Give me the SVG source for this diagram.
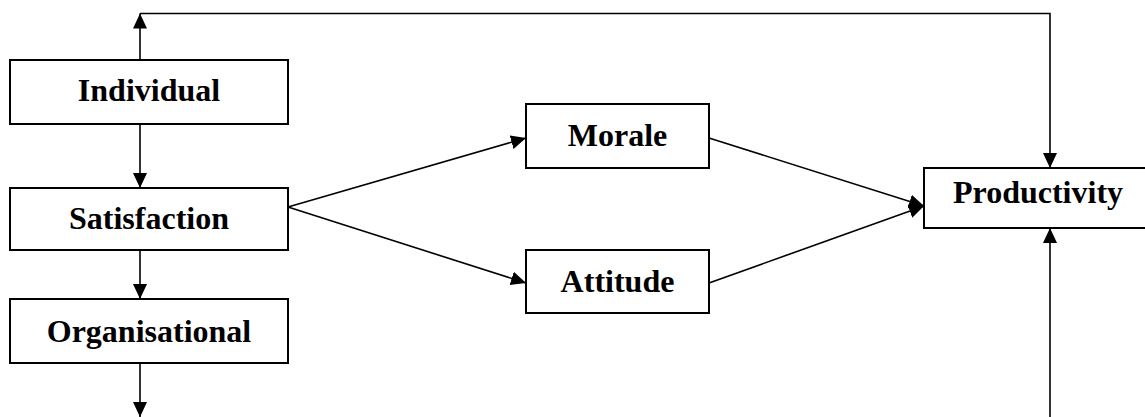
<svg xmlns="http://www.w3.org/2000/svg" width="1145" height="417" viewBox="0 0 1145 417">
  <style>
    .box { fill: #ffffff; stroke: #000000; stroke-width: 2; }
    .label { font-family: "Liberation Serif", "Times New Roman", serif; font-weight: bold; font-size: 32px; fill: #000000; text-anchor: middle; }
    .link { fill: none; stroke: #000000; stroke-width: 1.6; marker-end: url(#head); }
  </style>
  <defs>
    <marker id="head" markerUnits="userSpaceOnUse" markerWidth="16" markerHeight="15" refX="15" refY="7" orient="auto">
      <path d="M0,0 L15,7 L0,14 Z" fill="#000000"/>
    </marker>
  </defs>
  <rect width="1145" height="417" fill="#ffffff"/>

  <g id="connectors">
    <!-- feedback loop along the top -->
    <line class="link" x1="140" y1="60" x2="140" y2="13.5"/>
    <polyline class="link" points="140,13.5 1050,13.5 1050,168"/>
    <!-- left column -->
    <line class="link" x1="140" y1="124" x2="140" y2="188"/>
    <line class="link" x1="140" y1="250" x2="140" y2="299"/>
    <line class="link" x1="140" y1="363" x2="140" y2="417"/>
    <!-- fan out from Satisfaction -->
    <line class="link" x1="288" y1="207" x2="526" y2="138"/>
    <line class="link" x1="288" y1="207" x2="526" y2="283"/>
    <!-- converge on Productivity -->
    <line class="link" x1="709" y1="138" x2="924" y2="206"/>
    <line class="link" x1="709" y1="283" x2="924" y2="206"/>
    <!-- from below into Productivity -->
    <line class="link" x1="1050" y1="417" x2="1050" y2="228"/>
  </g>

  <g id="individual">
    <rect class="box" x="10" y="60" width="278" height="64"/>
    <text class="label" x="149" y="101">Individual</text>
  </g>
  <g id="satisfaction">
    <rect class="box" x="10" y="188" width="278" height="62"/>
    <text class="label" x="149" y="229">Satisfaction</text>
  </g>
  <g id="organisational">
    <rect class="box" x="10" y="299" width="278" height="64"/>
    <text class="label" x="149" y="342">Organisational</text>
  </g>
  <g id="morale">
    <rect class="box" x="526" y="104" width="183" height="64"/>
    <text class="label" x="617.5" y="146">Morale</text>
  </g>
  <g id="attitude">
    <rect class="box" x="526" y="250" width="183" height="63"/>
    <text class="label" x="617.5" y="292">Attitude</text>
  </g>
  <g id="productivity">
    <rect class="box" x="924" y="168" width="228" height="60"/>
    <text class="label" x="1038" y="203">Productivity</text>
  </g>
</svg>
